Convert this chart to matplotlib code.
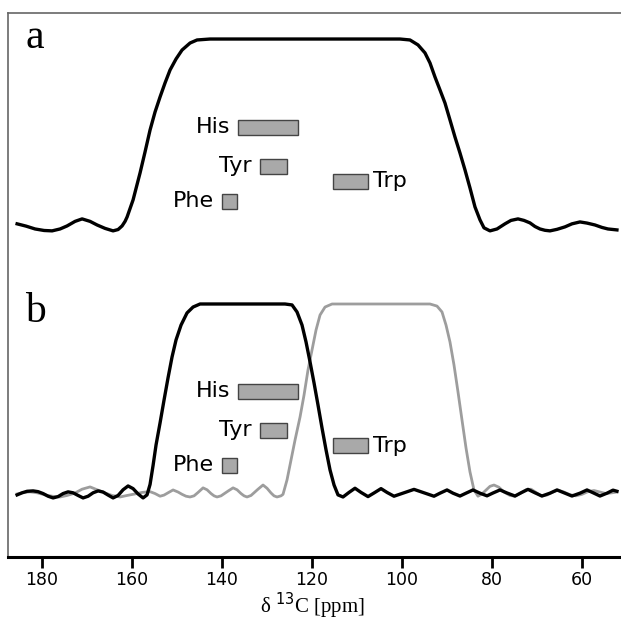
import matplotlib
matplotlib.use("Agg")
import matplotlib.pyplot as plt

# ---------------- data ----------------
# panel a: broadband excitation profile (ppm, relative intensity)
a_ppm = [185.48, 183.49, 181.49, 179.49, 177.71, 175.94, 174.38, 172.61, 171.05, 169.28,
         167.72, 165.95, 164.17, 163.06, 162.17, 161.51, 161.06, 159.73, 158.18, 157.07,
         155.96, 154.85, 153.74, 152.63, 151.52, 150.19, 148.86, 147.08, 145.53, 142.64,
         122.66, 100.47, 98.25, 96.47, 94.92, 93.81, 92.70, 91.59, 90.48, 89.37,
         88.26, 87.15, 86.04, 84.93, 83.82, 82.71, 81.82, 80.49, 78.93, 77.16,
         75.83, 74.27, 72.94, 71.61, 70.50, 69.39, 68.28, 67.17, 65.61, 63.84,
         62.29, 60.51, 58.95, 57.18, 55.62, 54.30, 52.30]
a_int = [0.032, 0.020, 0.005, -0.003, -0.005, 0.005, 0.021, 0.045, 0.058, 0.045,
         0.026, 0.008, -0.005, 0.002, 0.021, 0.045, 0.068, 0.158, 0.300, 0.411,
         0.526, 0.621, 0.700, 0.774, 0.842, 0.900, 0.947, 0.984, 1.000, 1.005,
         1.005, 1.005, 1.000, 0.974, 0.932, 0.879, 0.805, 0.737, 0.668, 0.579,
         0.489, 0.405, 0.316, 0.221, 0.121, 0.053, 0.011, -0.005, 0.005, 0.032,
         0.050, 0.058, 0.050, 0.037, 0.018, 0.005, -0.002, -0.005, 0.003, 0.016,
         0.032, 0.042, 0.036, 0.026, 0.013, 0.005, 0.000]

# panel b, black: selective pulse on the aromatic region
b1_ppm = [185.48, 184.37, 183.26, 181.93, 180.82, 179.71, 178.60, 177.49, 176.38, 175.27,
          174.16, 173.05, 171.94, 170.83, 169.72, 168.61, 167.50, 166.39, 165.28, 164.17,
          163.06, 161.95, 160.84, 159.73, 158.62, 157.51, 156.63, 155.96, 155.29, 154.63,
          153.74, 152.85, 151.97, 151.08, 150.19, 149.08, 147.75, 146.41, 144.86, 142.64,
          126.00, 124.44, 123.33, 122.22, 121.33, 120.44, 119.55, 118.67, 117.78, 116.89,
          116.00, 115.11, 114.23, 113.12, 111.79, 110.46, 109.12, 107.57, 106.24, 104.68,
          103.35, 101.80, 99.58, 97.36, 95.14, 92.92, 91.59, 90.03, 88.70, 87.15,
          85.81, 84.26, 82.71, 81.15, 79.82, 78.27, 76.71, 74.94, 73.60, 72.05,
          70.50, 68.95, 67.17, 65.61, 63.84, 62.29, 60.51, 58.95, 57.40, 56.07,
          54.51, 53.18, 52.30]
b1_int = [-0.005, 0.006, 0.014, 0.016, 0.012, 0.002, -0.012, -0.021, -0.014, 0.002,
          0.011, 0.006, -0.008, -0.021, -0.012, 0.006, 0.016, 0.010, -0.006, -0.021,
          -0.008, 0.022, 0.042, 0.028, 0.000, -0.021, -0.005, 0.050, 0.150, 0.258,
          0.374, 0.495, 0.611, 0.721, 0.811, 0.889, 0.953, 0.984, 1.000, 1.000,
          1.000, 0.995, 0.958, 0.889, 0.800, 0.695, 0.584, 0.468, 0.347, 0.232,
          0.126, 0.047, -0.005, -0.016, 0.008, 0.030, 0.008, -0.014, 0.005, 0.028,
          0.008, -0.012, 0.006, 0.024, 0.006, -0.012, 0.004, 0.021, 0.004, -0.011,
          0.004, 0.021, 0.004, -0.010, 0.005, 0.021, 0.005, -0.011, 0.006, 0.024,
          0.006, -0.011, 0.004, 0.021, 0.004, -0.011, 0.004, 0.021, 0.004, -0.011,
          0.004, 0.020, 0.014]

# panel b, grey: selective pulse on the upfield region
b2_ppm = [185.48, 183.93, 182.60, 181.04, 179.27, 177.71, 175.94, 174.38, 172.61, 171.05,
          169.28, 167.72, 165.95, 164.39, 162.62, 161.06, 159.29, 157.73, 155.96, 154.85,
          153.74, 152.85, 151.97, 150.85, 149.74, 148.86, 147.97, 147.08, 146.19, 145.30,
          144.19, 143.31, 142.42, 141.75, 141.09, 140.20, 138.65, 137.53, 136.65, 135.76,
          135.09, 134.43, 133.54, 131.99, 130.88, 129.99, 129.10, 128.44, 127.77, 126.88,
          126.44, 125.55, 124.66, 123.77, 122.66, 121.77, 120.89, 120.00, 119.11, 118.22,
          117.11, 115.55, 93.81, 92.25, 91.14, 90.25, 89.37, 88.48, 87.59, 86.70,
          85.81, 84.93, 84.04, 83.15, 82.27, 81.38, 80.49, 79.60, 78.49, 77.38,
          76.05, 74.94, 73.82, 72.50, 71.39, 70.27, 69.17, 67.83, 66.73, 65.39,
          64.06, 62.73, 61.41, 60.07, 58.73, 57.40, 56.07, 54.74, 53.41, 52.30]
b2_int = [0.000, 0.008, 0.011, 0.006, -0.005, -0.012, -0.016, -0.008, 0.005, 0.025,
          0.037, 0.022, 0.005, -0.008, -0.016, -0.008, 0.000, 0.008, 0.012, 0.002,
          -0.012, -0.006, 0.006, 0.021, 0.010, -0.002, -0.012, -0.016, -0.010, 0.008,
          0.032, 0.022, 0.002, -0.010, -0.016, -0.010, 0.015, 0.032, 0.022, 0.002,
          -0.010, -0.016, -0.008, 0.025, 0.047, 0.030, 0.005, -0.010, -0.016, -0.010,
          -0.002, 0.074, 0.179, 0.284, 0.405, 0.521, 0.653, 0.758, 0.863, 0.942,
          0.984, 1.000, 1.000, 0.989, 0.958, 0.889, 0.800, 0.679, 0.537, 0.389,
          0.242, 0.116, 0.021, -0.012, 0.000, 0.020, 0.040, 0.047, 0.035, 0.010,
          -0.008, -0.012, 0.002, 0.022, 0.025, 0.008, -0.010, -0.006, 0.008, 0.020,
          0.010, -0.004, -0.010, -0.002, 0.012, 0.018, 0.010, 0.002, 0.006, 0.010]

# aromatic residue chemical-shift ranges (ppm)
residues = ["His", "Tyr", "Phe", "Trp"]
res_start = [136.41, 131.54, 139.97, 115.34]
res_end = [123.11, 125.55, 136.65, 107.57]

x_ticks = [180, 160, 140, 120, 100, 80, 60]
x_label = r"δ $^{13}$C [ppm]"
panel_labels = ["a", "b"]

# ---------------- layout / style ----------------
OFF_A = 1.39          # vertical offset of panel a trace
OFF_B = 0.0
bar_level = [0.54, 0.335, 0.15, 0.255]
bar_h = 0.08

fig = plt.figure(figsize=(6.21, 6.20), dpi=100)
ax = fig.add_axes([8 / 621, 63 / 620, 613 / 621, 544 / 620])

ax.plot(a_ppm, [v + OFF_A for v in a_int], color="black", lw=2.4,
        solid_joinstyle="round", zorder=4)
ax.plot(b2_ppm, [v + OFF_B for v in b2_int], color="#9d9d9d", lw=2.0,
        solid_joinstyle="round", zorder=3)
ax.plot(b1_ppm, [v + OFF_B for v in b1_int], color="black", lw=2.4,
        solid_joinstyle="round", zorder=4)

label_font = ["DejaVu Sans"]
serif_font = ["Liberation Serif", "DejaVu Serif"]
for off in (OFF_A, OFF_B):
    for name, s, e, lev in zip(residues, res_start, res_end, bar_level):
        lo, hi = min(s, e), max(s, e)
        ax.barh(lev + off, hi - lo, left=lo, height=bar_h, color="#a9a9a9",
                edgecolor="#444444", linewidth=1.0, zorder=5)
        if name == "Trp":
            ax.text(lo - 1.2, lev + off, name, ha="left", va="center",
                    fontsize=16, family=label_font, zorder=6)
        else:
            ax.text(hi + 1.8, lev + off, name, ha="right", va="center",
                    fontsize=16, family=label_font, zorder=6)

ax.text(0.028, 0.99, panel_labels[0], transform=ax.transAxes, ha="left", va="top",
        fontsize=30, family=serif_font)
ax.text(0.028, 0.487, panel_labels[1], transform=ax.transAxes, ha="left", va="top",
        fontsize=30, family=serif_font)

ax.set_xlim(187.5, 51.4)
ax.set_ylim(-0.332, 2.532)
ax.set_xticks(x_ticks)
ax.set_xticklabels([str(t) for t in x_ticks], fontsize=12.5, family=label_font)
ax.set_yticks([])
ax.tick_params(axis="x", direction="out", length=8, width=2, pad=2, color="black")
ax.set_xlabel(x_label, fontsize=15, family=serif_font)
ax.xaxis.set_label_coords(0.497, -0.063)

ax.spines["right"].set_visible(False)
ax.spines["left"].set_color("#666666")
ax.spines["left"].set_linewidth(1.2)
ax.spines["top"].set_color("#666666")
ax.spines["top"].set_linewidth(1.2)
ax.spines["bottom"].set_color("black")
ax.spines["bottom"].set_linewidth(2.2)

fig.savefig("out.png", dpi=100)
